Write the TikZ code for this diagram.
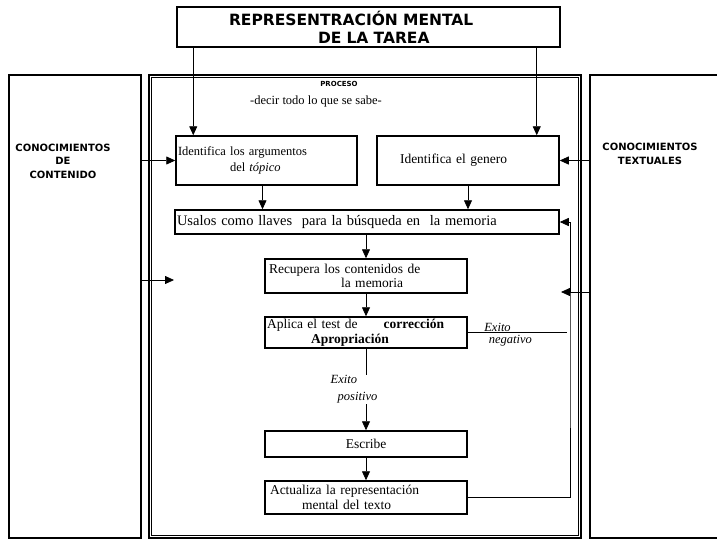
\documentclass[tikz,border=0pt]{standalone}
\usepackage{fontspec}
\setmainfont{Liberation Serif}
\newfontfamily\titfont{DejaVu Sans}
\usetikzlibrary{arrows.meta}

\begin{document}
\begin{tikzpicture}[x=1pt, y=-1pt]

\tikzset{marco/.style = {draw, rectangle, line width=2.6pt, inner sep=0pt}}
\tikzset{caja/.style = {draw, rectangle, line width=1.5pt, inner xsep=2pt, inner ysep=0pt, align=left, font=\fontsize{13.5}{14.5}\selectfont}}
\tikzset{rotulo/.style = {font=\titfont\bfseries\fontsize{10}{13.5}\selectfont, align=center}}
\tikzset{flecha/.style = {line width=0.8pt, -{Triangle[length=9pt, width=8pt]}}}
\tikzset{linea/.style = {line width=0.8pt}}

\useasboundingbox (0,0) rectangle (717,541);

\node[marco, minimum width=132pt, minimum height=463pt] (contenido) at (75,306.5) {};
\node[marco, minimum width=432pt, minimum height=463pt] (proceso) at (365,306.5) {};
\draw[line width=0.6pt] ([shift={(4,4)}]proceso.north west) rectangle ([shift={(-4,-4)}]proceso.south east);
\node[marco, minimum width=135pt, minimum height=463pt] (textuales) at (657.5,306.5) {};

\node[marco, line width=2.4pt, minimum width=383pt, minimum height=40pt, text width=379pt, align=left,
      font=\titfont\bfseries\fontsize{15.5}{18}\selectfont] (tarea) at (368.5,27)
      {\hspace*{50pt}REPRESENTRACIÓN MENTAL\\\hspace*{139pt}DE LA TAREA};

\node[rotulo] (cont) at (63,161) {CONOCIMIENTOS\\DE\\CONTENIDO};
\node[rotulo] (text) at (650,154) {CONOCIMIENTOS\\TEXTUALES};
\node[font=\titfont\bfseries\fontsize{7}{8}\selectfont] (titproc) at (339,84) {PROCESO};
\node[font=\fontsize{12.5}{14}\selectfont] (lema) at (316,101) {-decir todo lo que se sabe-};

\node[caja, minimum width=181pt, minimum height=49pt, text width=177pt, font=\fontsize{12.5}{16}\selectfont] (arg) at (266.5,160.5)
      {Identifica los argumentos\\\hspace*{52pt}del \textit{tópico}};
\node[caja, minimum width=182pt, minimum height=49pt, text width=178pt] (genero) at (468,160.5)
      {\hspace*{21pt}Identifica el genero};
\node[caja, minimum width=384pt, minimum height=24pt, text width=380pt, font=\fontsize{14.5}{15}\selectfont] (llaves) at (367,222)
      {Usalos como llaves\ \ para la búsqueda en\ \ la memoria};
\node[caja, minimum width=202pt, minimum height=34pt, text width=198pt] (recupera) at (366,276)
      {\hspace*{2pt}Recupera los contenidos de\\\hspace*{74pt}la memoria};
\node[caja, minimum width=202pt, minimum height=31pt, text width=198pt] (aplica) at (366,332.5)
      {Aplica el test de\hspace{26pt}\textbf{corrección}\\\hspace*{44pt}\textbf{Apropriación}};
\node[caja, minimum width=202pt, minimum height=26pt, text width=198pt, align=center] (escribe) at (366,444)
      {Escribe};
\node[caja, minimum width=202pt, minimum height=33pt, text width=198pt] (actualiza) at (366,497.5)
      {\hspace*{3pt}Actualiza la representación\\\hspace*{35pt}mental del texto};

\coordinate (izq) at (174,280);
\coordinate (der) at (561,292);
\coordinate (vuelta) at (570,360);
\coordinate (neg) at (567,332.5);

\draw[flecha] ([xshift=18pt]arg.north west |- tarea.south) -- ([xshift=18pt]arg.north west);
\draw[flecha] ([xshift=-23pt]genero.north east |- tarea.south) -- ([xshift=-23pt]genero.north east);
\draw[flecha] (contenido.east |- arg.west) -- (arg.west);
\draw[flecha] (textuales.west |- genero.east) -- (genero.east);
\draw[flecha] ([xshift=-4pt]arg.south) -- ([xshift=-4pt]arg.south |- llaves.north);
\draw[flecha] (genero.south) -- (genero.south |- llaves.north);
\draw[flecha] (recupera.north |- llaves.south) -- (recupera.north);
\draw[flecha] (recupera) -- (aplica);
\draw[flecha] (aplica) -- node[fill=white, inner sep=1pt, xshift=-12pt, align=left, font=\itshape\fontsize{12.5}{17}\selectfont]
      {Exito\\\hspace*{7pt}positivo} (escribe);
\draw[flecha] (escribe) -- (actualiza);
\draw[flecha] (contenido.east |- izq) -- (izq);
\draw[flecha] (textuales.west |- der) -- (der);
\draw[flecha] (actualiza.east) -| (vuelta) |- (llaves.east);
\draw[linea] (aplica.east) -- node[pos=0.3, above, inner sep=0.5pt, font=\itshape\fontsize{12.5}{14}\selectfont] {Exito}
      node[pos=0.43, below, inner sep=2pt, font=\itshape\fontsize{12.5}{14}\selectfont] {negativo} (neg);

\end{tikzpicture}
\end{document}
